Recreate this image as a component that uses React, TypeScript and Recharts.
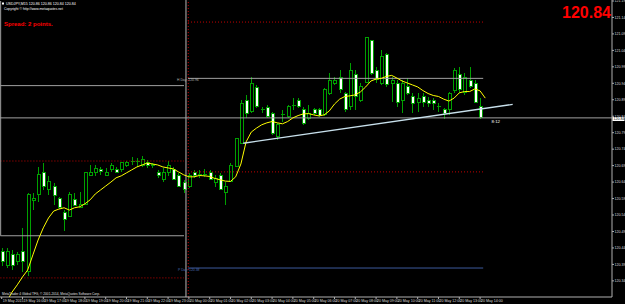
import React from "react";
import { ComposedChart, XAxis, YAxis, Bar, Line, ReferenceLine } from "recharts";

// USDJPY M15 candles, bar index 0..92
const opens = [
  120.429, 120.388, 120.419, 120.398, 120.429, 120.367, 120.583, 120.601, 120.669, 120.618,
  120.628, 120.589, 120.547, 120.537, 120.588, 120.564, 120.571, 120.659, 120.669, 120.677,
  120.659, 120.679, 120.679, 120.679, 120.69, 120.702, 120.702, 120.689, 120.699, 120.694,
  120.669, 120.649, 120.669, 120.679, 120.659, 120.638, 120.626, 120.669, 120.662, 120.66,
  120.669, 120.638, 120.66, 120.608, 120.641, 120.687, 120.758, 120.889, 120.854, 120.928,
  120.859, 120.867, 120.849, 120.778, 120.844, 120.839, 120.874, 120.889, 120.859, 120.834,
  120.859, 120.859, 120.844, 120.91, 120.94, 120.958, 120.908, 120.871, 120.968, 120.889,
  120.942, 121.069, 120.978, 120.94, 121.029, 120.94, 120.94, 120.889, 120.93, 120.899,
  120.881, 120.899, 120.889, 120.889, 120.871, 120.859, 120.859, 120.918, 120.968, 120.912,
  120.948, 120.94, 120.869,
];
const highs = [
  120.44, 120.44, 120.434, 120.428, 120.501, 120.607, 120.607, 120.686, 120.698, 120.657,
  120.637, 120.595, 120.555, 120.611, 120.606, 120.61, 120.672, 120.692, 120.692, 120.687,
  120.682, 120.697, 120.687, 120.702, 120.705, 120.717, 120.712, 120.719, 120.707, 120.699,
  120.677, 120.682, 120.705, 120.687, 120.667, 120.647, 120.667, 120.677, 120.677, 120.68,
  120.677, 120.662, 120.667, 120.641, 120.697, 120.775, 120.889, 120.905, 120.96, 120.935,
  120.869, 120.874, 120.854, 120.819, 120.859, 120.874, 120.895, 120.895, 120.869, 120.874,
  120.864, 120.864, 120.925, 120.971, 120.96, 120.981, 120.915, 121.001, 120.981, 120.94,
  121.082, 121.072, 120.991, 121.041, 121.031, 120.96, 120.95, 120.95, 120.955, 120.91,
  120.91, 120.91, 120.899, 120.895, 120.879, 120.864, 120.915, 120.986, 120.991, 120.971,
  120.991, 120.95, 120.895,
];
const lows = [
  120.385, 120.379, 120.373, 120.388, 120.367, 120.355, 120.555, 120.58, 120.616, 120.601,
  120.571, 120.558, 120.49, 120.535, 120.566, 120.561, 120.569, 120.657, 120.657, 120.662,
  120.657, 120.672, 120.667, 120.672, 120.687, 120.692, 120.687, 120.687, 120.682, 120.682,
  120.652, 120.641, 120.657, 120.647, 120.626, 120.606, 120.621, 120.652, 120.653, 120.656,
  120.647, 120.626, 120.616, 120.571, 120.64, 120.685, 120.756, 120.834, 120.849, 120.864,
  120.849, 120.834, 120.783, 120.768, 120.824, 120.834, 120.859, 120.864, 120.814, 120.829,
  120.844, 120.837, 120.841, 120.905, 120.935, 120.91, 120.854, 120.859, 120.859, 120.884,
  120.94, 120.965, 120.94, 120.935, 120.93, 120.884, 120.869, 120.849, 120.905, 120.849,
  120.854, 120.869, 120.869, 120.859, 120.854, 120.831, 120.844, 120.91, 120.91, 120.905,
  120.925, 120.879, 120.833,
];
const closes = [
  120.398, 120.429, 120.388, 120.419, 120.398, 120.601, 120.589, 120.662, 120.628, 120.641,
  120.598, 120.562, 120.527, 120.601, 120.568, 120.571, 120.669, 120.669, 120.68, 120.672,
  120.669, 120.689, 120.669, 120.701, 120.701, 120.7, 120.702, 120.709, 120.689, 120.689,
  120.659, 120.669, 120.689, 120.649, 120.628, 120.618, 120.659, 120.659, 120.659, 120.662,
  120.649, 120.65, 120.618, 120.628, 120.689, 120.773, 120.879, 120.849, 120.94, 120.869,
  120.858, 120.839, 120.788, 120.814, 120.842, 120.869, 120.873, 120.869, 120.819, 120.849,
  120.849, 120.841, 120.92, 120.95, 120.95, 120.92, 120.859, 120.978, 120.899, 120.93,
  121.08, 120.971, 120.952, 121.021, 120.935, 120.95, 120.881, 120.94, 120.91, 120.879,
  120.895, 120.881, 120.879, 120.879, 120.87, 120.849, 120.91, 120.978, 120.92, 120.958,
  120.93, 120.881, 120.835,
];
// moving average, one value further than the candles (shifted)
const maValues = [
  120.255, 120.279, 120.306, 120.328, 120.352, 120.373, 120.419, 120.464, 120.501, 120.531,
  120.552, 120.558, 120.562, 120.555, 120.562, 120.565, 120.574, 120.586, 120.604, 120.616,
  120.628, 120.64, 120.653, 120.659, 120.668, 120.677, 120.686, 120.692, 120.698, 120.695,
  120.692, 120.686, 120.683, 120.68, 120.671, 120.662, 120.656, 120.656, 120.66, 120.659,
  120.657, 120.651, 120.647, 120.643, 120.642, 120.656, 120.695, 120.762, 120.792, 120.804,
  120.814, 120.82, 120.824, 120.82, 120.817, 120.824, 120.835, 120.842, 120.847, 120.848,
  120.844, 120.841, 120.844, 120.856, 120.877, 120.892, 120.9, 120.902, 120.905, 120.914,
  120.929, 120.947, 120.953, 120.955, 120.961, 120.964, 120.956, 120.947, 120.941, 120.935,
  120.929, 120.918, 120.909, 120.903, 120.9, 120.892, 120.886, 120.895, 120.911, 120.915,
  120.915, 120.923, 120.917, 120.895,
];

const timeLabels = [
  "19 May 2015", "19 May 16:00", "19 May 17:00", "19 May 18:00", "19 May 19:00", "19 May 20:00",
  "19 May 21:00", "19 May 22:00", "19 May 23:00", "20 May 00:00", "20 May 01:00", "20 May 02:00",
  "20 May 03:00", "20 May 04:00", "20 May 05:00", "20 May 06:00", "20 May 07:00", "20 May 08:00",
  "20 May 09:00", "20 May 10:00", "20 May 11:00", "20 May 12:00", "20 May 13:00", "20 May 14:00",
];
const priceTicks = [
  121.19, 121.14, 121.09, 121.04, 120.99, 120.94, 120.89, 120.84, 120.79,
  120.74, 120.69, 120.64, 120.59, 120.54, 120.49, 120.44, 120.39, 120.34,
];

const bid = 120.835;
const trendPoints = [
  { x: 46.46, y: 120.758 },
  { x: 98.27, y: 120.876 },
];
// daily levels: [price, colour]
const prevDayLevels = [
  [120.933, "grey"],
  [120.704, "red"],
  [120.477, "grey"],
  [120.349, "red"],
];
const dayLevels = [
  [121.126, "red"],
  [120.955, "grey"],
  [120.671, "red"],
  [120.379, "blue"],
];
const prevDaySpan = [-0.25, 35.06];
const daySpan = [35.83, 92.6];
const daySeparator = 35.44;

const data = maValues.map((ma, i) => ({
  i,
  o: opens[i],
  h: highs[i],
  l: lows[i],
  c: closes[i],
  ma,
}));

const GREEN = "#00a000";
const levelColor: Record<string, string> = {
  grey: "#a0a0a0",
  red: "#c00000",
  blue: "#3c5a9c",
};
const FONT = "Liberation Sans, Arial, sans-serif";

const Candle = (props: any) => {
  const { x, y, width, height, payload } = props;
  if (payload.o == null || !isFinite(y) || !isFinite(height)) return null;
  const { o, h, l, c } = payload;
  const cx = Math.round(x + width / 2) + 0.5;
  const k = height / (h - l);
  const py = (p: number) => y + (h - p) * k;
  const top = py(Math.max(o, c));
  const bot = py(Math.min(o, c));
  const bull = c >= o;
  return (
    <g shapeRendering="crispEdges">
      <line x1={cx} x2={cx} y1={y} y2={y + height} stroke={GREEN} strokeWidth={1} />
      {bot - top < 1 ? (
        <line x1={cx - 2} x2={cx + 2} y1={top} y2={top} stroke={GREEN} strokeWidth={1} />
      ) : (
        <rect
          x={cx - 1.5}
          y={top}
          width={3}
          height={bot - top}
          fill={bull ? "#000" : "#fff"}
          stroke={GREEN}
          strokeWidth={1}
        />
      )}
    </g>
  );
};

const TimeTick = (props: any) => {
  const { x, payload } = props;
  const label = timeLabels[Math.round(payload.value / 4)];
  return (
    <g>
      <line x1={x} x2={x} y1={297} y2={299} stroke="#b0b0b0" />
      <text x={x + 1} y={302} fontSize={3.6} fill="#dcdcdc" fontFamily={FONT}>
        {label}
      </text>
    </g>
  );
};

const PriceTick = (props: any) => {
  const { y, payload } = props;
  return (
    <g>
      <line x1={612} x2={614} y1={y} y2={y} stroke="#b0b0b0" />
      <text x={614.5} y={y + 1.3} fontSize={3.6} fill="#dcdcdc" fontFamily={FONT}>
        {payload.value.toFixed(2)}
      </text>
    </g>
  );
};

export default function App() {
  return (
    <div
      style={{
        position: "fixed",
        left: 0,
        top: 0,
        width: 625,
        height: 304,
        background: "#000",
        overflow: "hidden",
      }}
    >
      <ComposedChart
        width={625}
        height={304}
        data={data}
        margin={{ top: 0, right: 0, bottom: 0, left: 0 }}
      >
        <XAxis
          dataKey="i"
          type="number"
          domain={[-0.327, 117.37]}
          allowDataOverflow
          ticks={timeLabels.map((_, k) => k * 4)}
          tick={<TimeTick />}
          tickLine={false}
          tickSize={0}
          axisLine={{ stroke: "#b0b0b0" }}
          height={7}
          interval={0}
        />
        <YAxis
          orientation="right"
          type="number"
          domain={[120.291, 121.193]}
          allowDataOverflow
          ticks={priceTicks}
          tick={<PriceTick />}
          tickLine={false}
          tickSize={0}
          axisLine={{ stroke: "#b0b0b0" }}
          width={13}
          interval={0}
        />
        {prevDayLevels.map(([p, col], k) => (
          <ReferenceLine
            key={"pl" + k}
            ifOverflow="visible"
            segment={[
              { x: prevDaySpan[0], y: p as number },
              { x: prevDaySpan[1], y: p as number },
            ]}
            stroke={levelColor[col as string]}
            strokeDasharray={col === "red" ? "1 2" : undefined}
          />
        ))}
        <ReferenceLine
          ifOverflow="visible"
          segment={[
            { x: -0.2, y: 121.19 },
            { x: -0.2, y: prevDayLevels[2][0] as number },
          ]}
          stroke="#a0a0a0"
        />
        {dayLevels.map(([p, col], k) => (
          <ReferenceLine
            key={"dl" + k}
            ifOverflow="visible"
            segment={[
              { x: daySpan[0], y: p as number },
              { x: daySpan[1], y: p as number },
            ]}
            stroke={levelColor[col as string]}
            strokeDasharray={col === "red" ? "1 2" : undefined}
          />
        ))}
        <ReferenceLine x={daySeparator} stroke="#b8b8b8" />
        <ReferenceLine x={daySeparator + 0.44} stroke="#c00000" strokeDasharray="1 2" />
        <ReferenceLine y={bid} stroke="#a0a0a0" />
        <Bar
          dataKey={(d: any) => (d.o == null ? null : [d.l, d.h])}
          shape={<Candle />}
          isAnimationActive={false}
        />
        <Line
          dataKey="ma"
          stroke="#ffff00"
          strokeWidth={1}
          dot={false}
          activeDot={false}
          type="linear"
          isAnimationActive={false}
        />
        <ReferenceLine
          ifOverflow="visible"
          segment={trendPoints}
          stroke="#c8e0ec"
          strokeWidth={1.3}
        />
      </ComposedChart>
      <svg
        width={625}
        height={304}
        style={{ position: "absolute", left: 0, top: 0, pointerEvents: "none" }}
        fontFamily={FONT}
      >
        <rect x={2} y={2.5} width={2} height={2} fill="#fff" />
        <text x={6} y={5} fontSize={3.6} fill="#fff">
          USDJPY,M15 120.86 120.86 120.84 120.84
        </text>
        <text x={4} y={9.5} fontSize={3.4} fill="#fff">
          Copyright © http://www.metaquotes.net
        </text>
        <text x={4} y={26} fontSize={6} fontWeight="bold" fill="#ff0000">
          Spread: 2 points.
        </text>
        <text x={611} y={17.5} fontSize={16} fontWeight="bold" fill="#ff0000" textAnchor="end">
          120.84
        </text>
        <text x={177} y={80.5} fontSize={3.4} fill="#b0b0b0">
          H Day: 120.96
        </text>
        <text x={178} y={270.5} fontSize={3.4} fill="#4a6ab0">
          P Day: 120.38
        </text>
        <text x={491.5} y={123.3} fontSize={4.4} fill="#fff">
          8:12
        </text>
        <text x={2} y={294.5} fontSize={3.2} fill="#e0e0e0">
          MetaTrader 4 Global TFG, © 2001-2014, MetaQuotes Software Corp.
        </text>
        <rect x={612.5} y={117} width={12} height={4} fill="#fff" />
        <text x={613.5} y={120.3} fontSize={3.6} fill="#000">
          120.84
        </text>
      </svg>
    </div>
  );
}
